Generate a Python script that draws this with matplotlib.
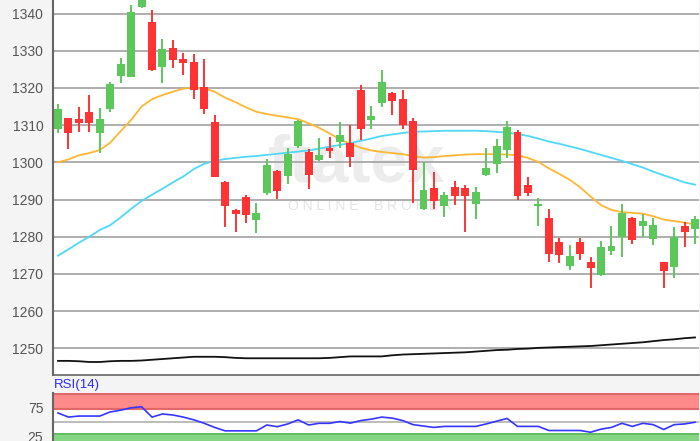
import matplotlib
matplotlib.use("Agg")
import matplotlib.pyplot as plt
import numpy as np

plt.rcParams['font.family'] = ['Liberation Sans', 'DejaVu Sans']

# ---- data ----
opens = [1308.9, 1311.9, 1311.6, 1313.6, 1307.8, 1314.3, 1323.2, 1323.0, 1341.9, 1337.8,
         1325.7, 1330.7, 1327.9, 1326.9, 1320.2, 1310.9, 1294.8, 1287.1, 1290.6, 1284.4,
         1291.8, 1297.6, 1296.3, 1304.4, 1302.8, 1300.6, 1303.9, 1305.5, 1305.1, 1319.5,
         1311.4, 1315.9, 1318.6, 1317.1, 1311.1, 1287.4, 1293.2, 1288.3, 1293.5, 1293.2,
         1288.9, 1296.5, 1299.5, 1303.2, 1308.2, 1293.8, 1288.3, 1284.9, 1278.6, 1272.1,
         1278.7, 1273.1, 1269.6, 1276.1, 1279.9, 1285.0, 1282.9, 1279.4, 1273.1, 1271.9,
         1282.8, 1282.1]
highs = [1315.7, 1312.0, 1315.0, 1318.2, 1314.7, 1321.7, 1328.0, 1342.3, 1348.0, 1341.0,
         1333.1, 1332.9, 1329.3, 1329.1, 1327.7, 1312.7, 1294.9, 1287.5, 1291.1, 1289.0,
         1301.0, 1297.9, 1303.9, 1311.4, 1303.5, 1306.5, 1306.9, 1310.9, 1310.0, 1320.8,
         1315.2, 1324.8, 1318.8, 1319.5, 1312.0, 1300.1, 1297.4, 1292.1, 1295.0, 1293.8,
         1293.5, 1303.9, 1306.3, 1311.1, 1308.6, 1296.0, 1290.3, 1287.4, 1279.7, 1277.7,
         1279.7, 1274.6, 1278.8, 1282.8, 1288.8, 1285.3, 1286.2, 1285.1, 1273.2, 1282.6,
         1283.9, 1285.7]
lows = [1307.8, 1303.6, 1308.1, 1308.1, 1302.6, 1313.6, 1321.4, 1322.9, 1341.4, 1324.6,
        1321.4, 1325.3, 1323.5, 1317.0, 1313.0, 1296.0, 1282.7, 1281.3, 1283.7, 1280.9,
        1291.3, 1290.2, 1294.2, 1303.9, 1292.7, 1300.4, 1301.1, 1303.8, 1298.7, 1306.0,
        1309.1, 1315.0, 1312.7, 1308.9, 1289.1, 1287.2, 1287.4, 1285.4, 1288.5, 1281.2,
        1284.7, 1296.2, 1297.2, 1301.3, 1289.9, 1291.0, 1282.8, 1273.3, 1272.9, 1271.0,
        1273.8, 1266.3, 1269.4, 1275.0, 1274.6, 1278.0, 1279.9, 1277.7, 1266.3, 1268.8,
        1277.1, 1278.1]
closes = [1314.3, 1307.9, 1310.7, 1310.7, 1311.6, 1321.0, 1326.5, 1340.4, 1346.0, 1324.8,
          1330.4, 1327.4, 1326.7, 1319.5, 1314.4, 1296.1, 1288.3, 1286.2, 1285.8, 1286.4,
          1299.2, 1292.4, 1302.2, 1311.1, 1296.6, 1302.0, 1303.0, 1307.4, 1301.5, 1308.9,
          1312.6, 1321.7, 1316.6, 1310.1, 1298.0, 1292.6, 1289.6, 1291.1, 1291.0, 1291.0,
          1292.1, 1298.4, 1304.4, 1309.5, 1291.0, 1291.7, 1288.8, 1275.4, 1275.0, 1274.7,
          1275.3, 1271.7, 1277.2, 1277.6, 1286.3, 1279.2, 1284.2, 1283.2, 1270.8, 1279.9,
          1281.3, 1284.8]

ma_orange = [1300.0, 1300.8, 1301.9, 1302.5, 1303.3, 1305.3, 1308.4, 1311.4, 1315.0, 1317.0,
             1318.1, 1319.0, 1319.8, 1320.1, 1319.9, 1319.0, 1317.4, 1316.2, 1314.8, 1313.6,
             1313.0, 1312.5, 1312.1, 1311.6, 1310.5, 1309.3, 1307.8, 1306.2, 1305.0, 1303.9,
             1303.2, 1302.8, 1302.5, 1302.2, 1301.7, 1301.3, 1301.4, 1301.7, 1301.9, 1302.1,
             1302.2, 1302.2, 1302.2, 1302.1, 1301.9, 1301.2, 1300.1, 1298.4, 1296.9, 1295.3,
             1293.3, 1290.8, 1288.5, 1287.2, 1286.6, 1286.4, 1286.2, 1285.5, 1284.6, 1284.2,
             1283.8, 1283.3]
ma_cyan = [1274.9, 1276.6, 1278.4, 1280.0, 1281.8, 1283.1, 1285.2, 1287.5, 1289.6, 1291.3,
           1292.9, 1294.6, 1296.2, 1298.2, 1299.6, 1300.4, 1300.9, 1301.2, 1301.5, 1301.7,
           1302.0, 1302.3, 1302.6, 1302.9, 1303.2, 1303.7, 1304.2, 1304.7, 1305.2, 1305.8,
           1306.4, 1307.1, 1307.5, 1307.9, 1308.2, 1308.3, 1308.4, 1308.5, 1308.5, 1308.5,
           1308.5, 1308.4, 1308.2, 1308.0, 1307.6, 1307.1, 1306.4, 1305.6, 1305.0, 1304.3,
           1303.6, 1302.8, 1302.0, 1301.2, 1300.4, 1299.5, 1298.6, 1297.5, 1296.5, 1295.6,
           1294.6, 1294.0]
ma_black = [1246.6, 1246.6, 1246.5, 1246.3, 1246.3, 1246.5, 1246.6, 1246.6, 1246.7, 1246.9,
            1247.1, 1247.3, 1247.5, 1247.7, 1247.7, 1247.7, 1247.6, 1247.4, 1247.3, 1247.3,
            1247.3, 1247.3, 1247.3, 1247.3, 1247.3, 1247.3, 1247.4, 1247.6, 1247.8, 1247.8,
            1247.8, 1247.8, 1248.1, 1248.3, 1248.4, 1248.5, 1248.6, 1248.7, 1248.8, 1248.9,
            1249.1, 1249.3, 1249.5, 1249.6, 1249.8, 1249.9, 1250.1, 1250.2, 1250.3, 1250.4,
            1250.5, 1250.6, 1250.8, 1251.0, 1251.2, 1251.4, 1251.6, 1251.9, 1252.2, 1252.4,
            1252.7, 1252.9]
rsi = [65.9, 58.8, 60.6, 60.6, 60.6, 67.6, 70.6, 74.7, 76.5, 58.8,
       64.1, 62.4, 58.8, 54.1, 48.2, 41.2, 35.3, 35.3, 35.3, 35.3,
       45.3, 42.4, 47.1, 54.1, 45.3, 48.2, 48.2, 51.2, 48.5, 52.9,
       55.3, 58.8, 57.1, 52.9, 45.9, 43.5, 41.2, 42.9, 42.9, 42.9,
       42.9, 47.1, 51.8, 56.5, 42.9, 42.9, 42.9, 35.9, 35.9, 35.9,
       35.9, 32.9, 38.2, 41.2, 48.2, 42.9, 48.2, 45.9, 37.6, 45.9,
       47.1, 50.0]

price_ticks = [1250, 1260, 1270, 1280, 1290, 1300, 1310, 1320, 1330, 1340]
rsi_ticks = [25, 75]
rsi_label = "RSI(14)"
watermark_main = "ftatex"
watermark_sub = "O N L I N E    B R O K E R"

UP = '#5cc85c'
DOWN = '#ff3333'

W, H = 700, 441
fig = plt.figure(figsize=(W / 100, H / 100), dpi=100, facecolor='#f4f4f4')

# main price axes
ax = fig.add_axes([53 / W, 1 - 375 / H, 646 / W, 375 / H])
ax.set_facecolor('white')
x = np.arange(len(opens))
o = np.array(opens); c = np.array(closes); h = np.array(highs); l = np.array(lows)
up = c >= o
colors = np.where(up, UP, DOWN)

ax.set_xlim(-0.48, len(opens) - 1 + 0.38)
ax.set_ylim(1242.8, 1343.67)
ax.set_yticks(price_ticks)
ax.yaxis.grid(True, color='#a8a8a8', linewidth=1.3, zorder=0)
ax.set_axisbelow(True)
ax.set_xticks([])
ax.tick_params(axis='y', length=0, pad=7, labelsize=10, labelcolor='#555555')
for s in ['top', 'right']:
    ax.spines[s].set_visible(False)
ax.spines['left'].set_color('#666666')
ax.spines['left'].set_linewidth(1.5)
ax.spines['bottom'].set_color('#666666')
ax.spines['bottom'].set_linewidth(1.2)

# watermark
ax.text(0.47, 0.56, watermark_main, transform=ax.transAxes, ha='center', va='center',
        fontsize=48, fontweight='bold', color='#ececec', zorder=0.5)
ax.text(0.49, 0.45, watermark_sub, transform=ax.transAxes, ha='center', va='center',
        fontsize=10, color='#e4e4e4', zorder=0.5)

ax.plot(x, ma_black, color='#111111', linewidth=1.3, zorder=2)
ax.plot(x, ma_cyan, color='#4fd8f8', linewidth=1.3, zorder=2)
ax.plot(x, ma_orange, color='#ffb733', linewidth=1.3, zorder=2)

ax.vlines(x, l, h, colors=colors, linewidth=1.4, zorder=3)
body_bottom = np.minimum(o, c)
body_h = np.maximum(np.abs(c - o), 0.35)
ax.bar(x, body_h, bottom=body_bottom, width=0.76, color=colors, linewidth=0, zorder=4)

# RSI axes
rax = fig.add_axes([53 / W, 1 - 451.5 / H, 646 / W, 58.5 / H])
rax.set_facecolor('white')
rax.set_xlim(ax.get_xlim())
rax.set_ylim(0, 100)
rax.axhspan(72, 100, color='#ff8a8a', linewidth=0, zorder=1)
rax.axhline(73, color='#e06868', linewidth=1.5, zorder=1.5)
rax.axhline(98.5, color='#e06868', linewidth=1.5, zorder=1.5)
rax.axhspan(0, 31, color='#85d585', linewidth=0, zorder=1)
rax.axhline(30, color='#5cb85c', linewidth=1.2, zorder=1.5)
rax.axhline(50, color='#b0b0b0', linewidth=1.2, zorder=1.5)
rax.plot(x, rsi, color='#3535ff', linewidth=1.2, zorder=3)
rax.set_yticks(rsi_ticks)
rax.set_xticks([])
rax.tick_params(axis='y', length=0, pad=7, labelsize=10, labelcolor='#555555')
for s in ['top', 'right', 'bottom']:
    rax.spines[s].set_visible(False)
rax.spines['left'].set_color('#666666')
rax.spines['left'].set_linewidth(1.5)

fig.text(54 / W, 1 - 385 / H, rsi_label, ha='left', va='center', fontsize=9.5,
         color='#2a2aff')

fig.savefig('out.png', dpi=100, facecolor=fig.get_facecolor())
